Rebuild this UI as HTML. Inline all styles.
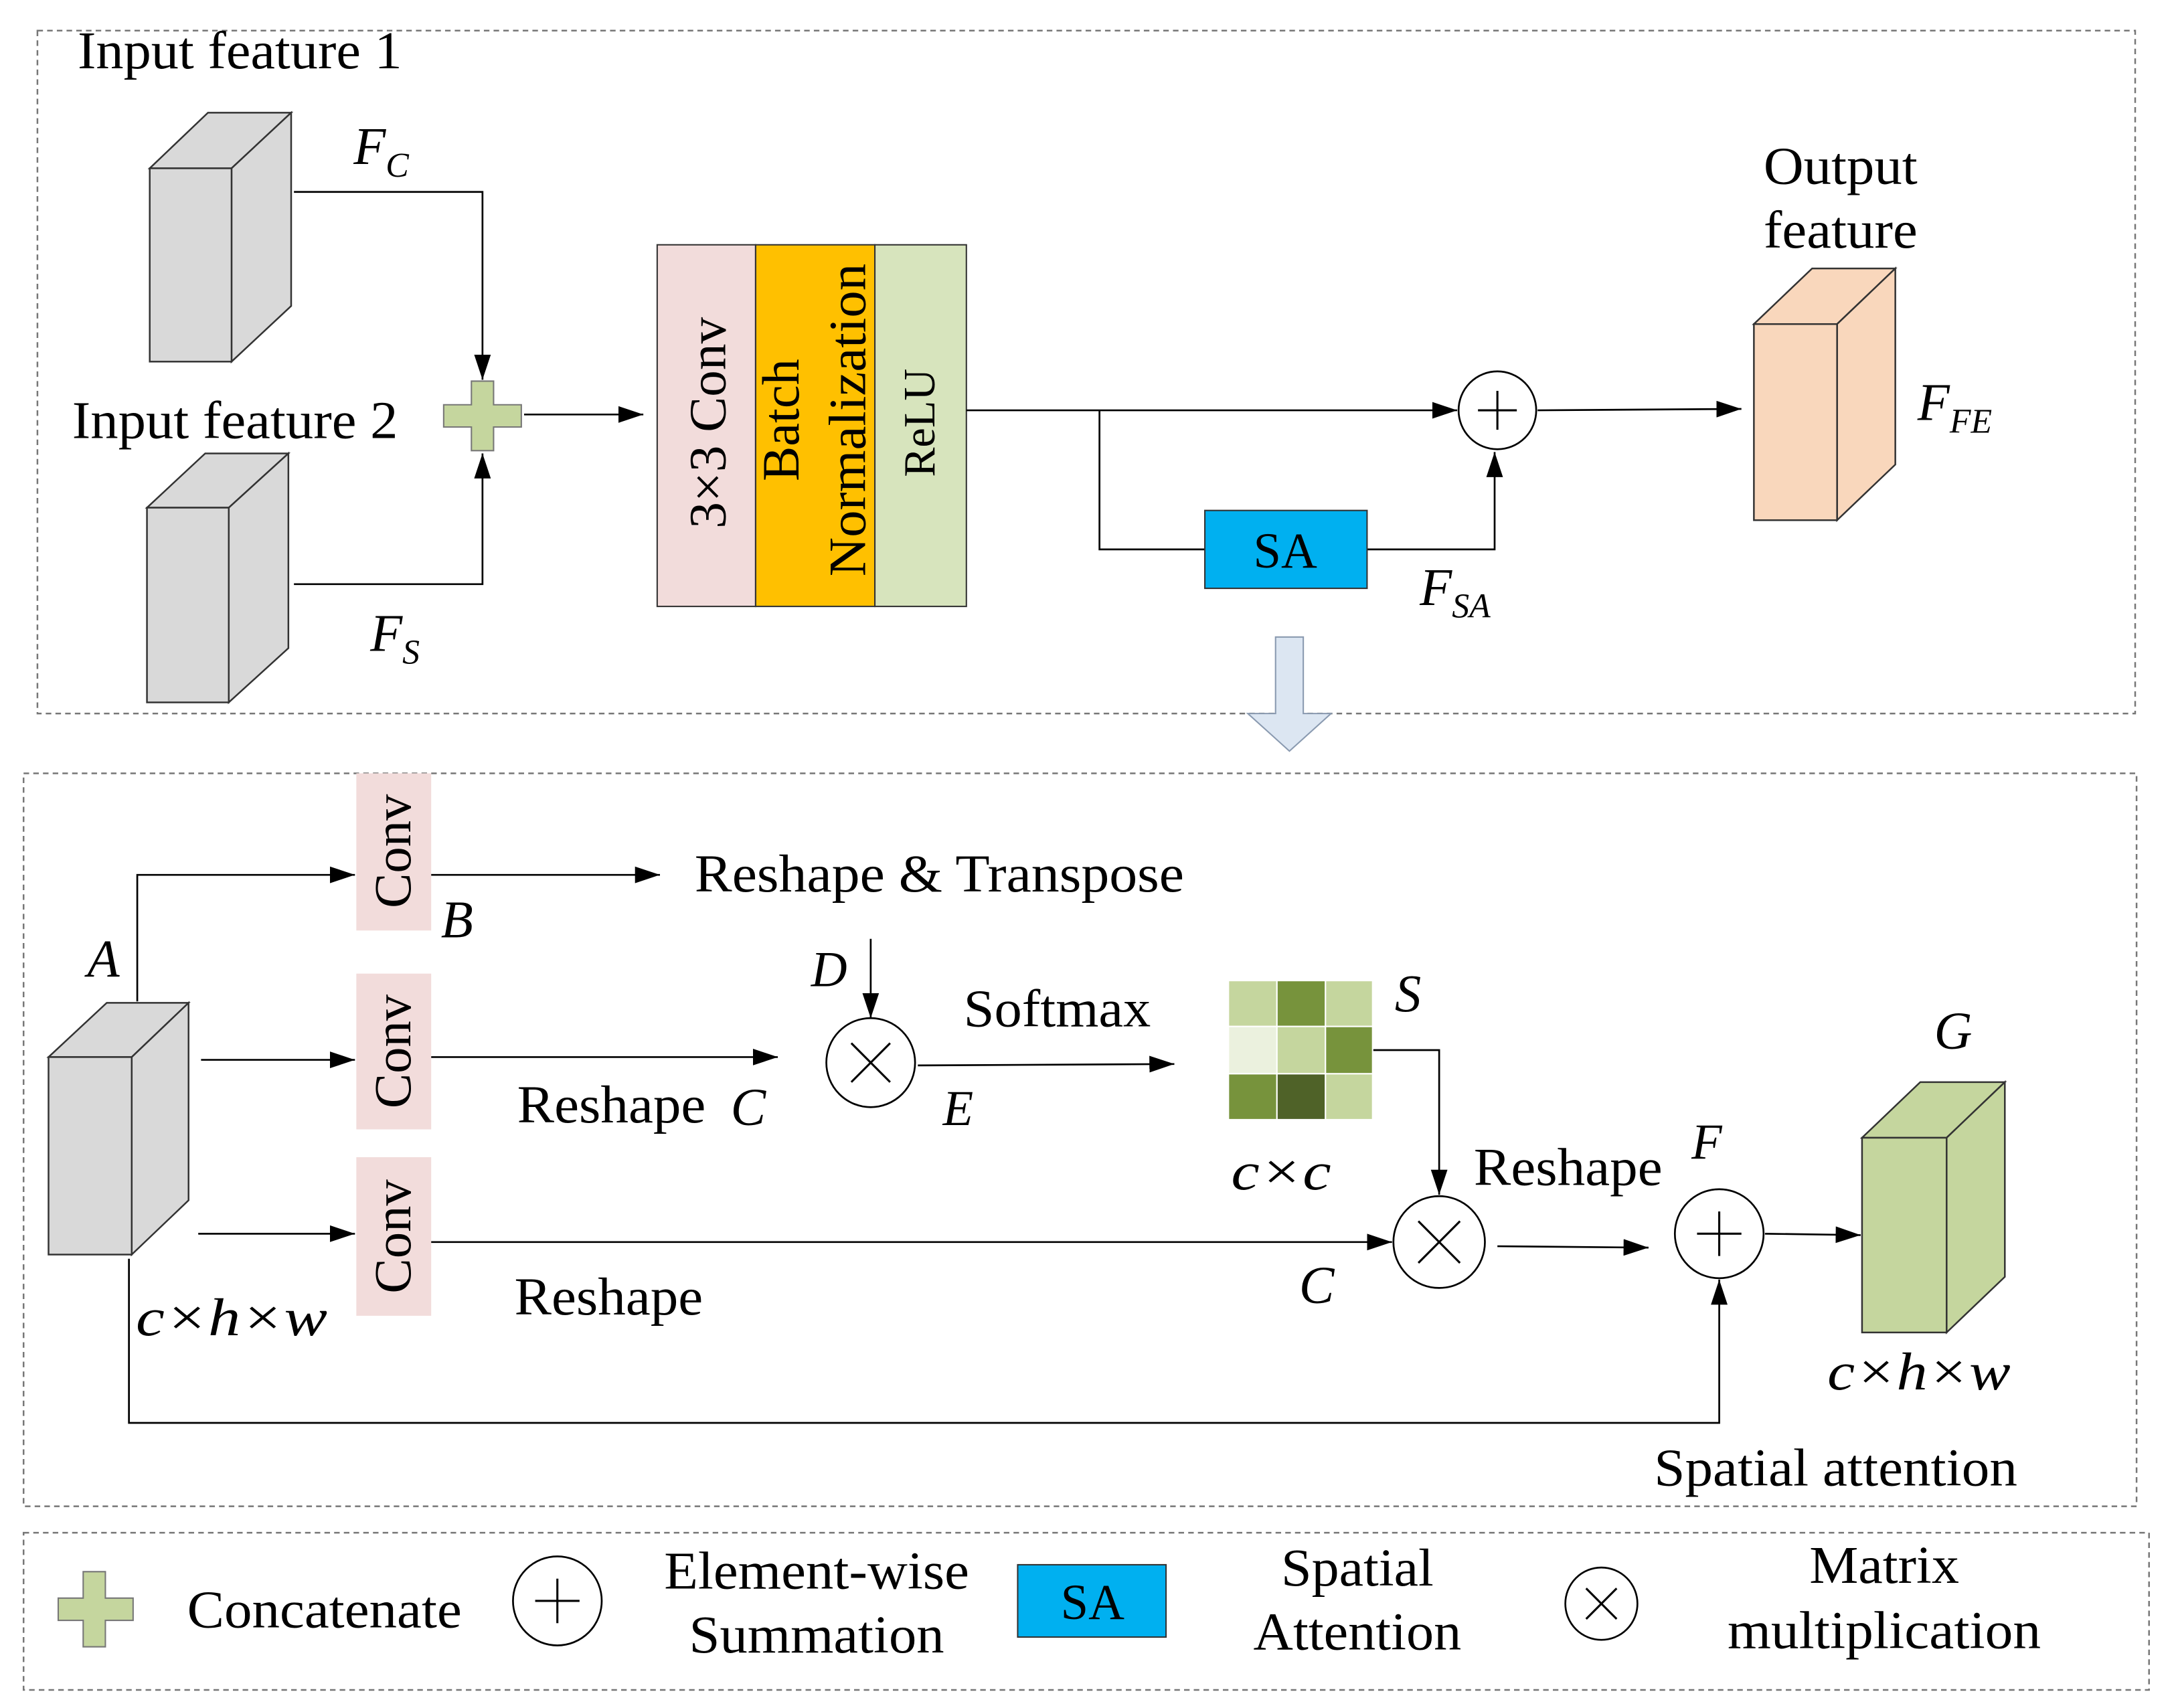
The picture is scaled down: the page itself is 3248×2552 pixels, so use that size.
<!DOCTYPE html>
<html><head><meta charset="utf-8"><style>
html,body{margin:0;padding:0;background:#fff;}
svg{display:block;}
text{font-family:"Liberation Serif",serif;fill:#000;}
.i{font-style:italic;}
</style></head><body>
<svg width="3248" height="2552" viewBox="0 0 1568 1228" preserveAspectRatio="none" xmlns="http://www.w3.org/2000/svg">
<defs>
<marker id="b" viewBox="0 0 18 12" markerWidth="18" markerHeight="12" refX="18" refY="6" orient="auto" markerUnits="userSpaceOnUse"><path d="M0,0 L18,6 L0,12 z"/></marker>
</defs>
<g fill="none" stroke="#777" stroke-width="1.2" stroke-dasharray="4,3">
<rect x="27" y="22" width="1513" height="491"/>
<rect x="17" y="556" width="1524" height="527"/>
<rect x="17" y="1102" width="1533" height="113"/>
</g>
<g stroke="#333" stroke-width="1.2">
<g fill="#d9d9d9"><path d="M108,121 L150,81 L210,81 L167,121 Z"/><path d="M167,121 L210,81 L210,220 L167,260 Z"/><rect x="108" y="121" width="59" height="139"/></g>
<g fill="#d9d9d9"><path d="M106,365 L148,326 L208,326 L165,365 Z"/><path d="M165,365 L208,326 L208,466 L165,505 Z"/><rect x="106" y="365" width="59" height="140"/></g>
<g fill="#f9d7bc"><path d="M1265,233 L1307,193 L1367,193 L1325,233 Z"/><path d="M1325,233 L1367,193 L1367,334 L1325,374 Z"/><rect x="1265" y="233" width="60" height="141"/></g>
<g fill="#d9d9d9"><path d="M35,760 L77,721 L136,721 L95,760 Z"/><path d="M95,760 L136,721 L136,863 L95,902 Z"/><rect x="35" y="760" width="60" height="142"/></g>
<g fill="#c5d69e"><path d="M1343,818 L1385,778 L1446,778 L1404,818 Z"/><path d="M1404,818 L1446,778 L1446,918 L1404,958 Z"/><rect x="1343" y="818" width="61" height="140"/></g>
</g>
<path d="M340,274 h16 v17 h20 v16 h-20 v17 h-16 v-17 h-20 v-16 h20 z" fill="#c5d69e" stroke="#777" stroke-width="1"/>
<path d="M60,1130 h16 v19 h20 v16 h-20 v19 h-16 v-19 h-18 v-16 h18 z" fill="#c5d69e" stroke="#777" stroke-width="1"/>
<rect x="474" y="176" width="71" height="260" fill="#f2dcdb" stroke="#333"/>
<rect x="545" y="176" width="86" height="260" fill="#ffc000" stroke="#333"/>
<rect x="631" y="176" width="66" height="260" fill="#d7e4bd" stroke="#333"/>
<text transform="translate(523,304) rotate(-90)" text-anchor="middle" font-size="38" textLength="152" lengthAdjust="spacingAndGlyphs">3×3 Conv</text>
<text transform="translate(576,302) rotate(-90)" text-anchor="middle" font-size="38" textLength="88" lengthAdjust="spacingAndGlyphs">Batch</text>
<text transform="translate(624,302) rotate(-90)" text-anchor="middle" font-size="38" textLength="225" lengthAdjust="spacingAndGlyphs">Normalization</text>
<text transform="translate(674,304) rotate(-90)" text-anchor="middle" font-size="32" textLength="78" lengthAdjust="spacingAndGlyphs">ReLU</text>
<g stroke="#000" stroke-width="1.3" fill="none" marker-end="url(#b)">
<path d="M212,138 H348 V273"/>
<path d="M212,420 H348 V326"/>
<path d="M378,298 H464"/>
<path d="M697,295 H1051"/>
<path d="M793,295 V395 H869" marker-end="none"/>
<path d="M986,395 H1078 V325"/>
<path d="M1109,295 L1256,294"/>
</g>
<circle cx="1080" cy="295" r="28" fill="#fff" stroke="#000" stroke-width="1.3"/>
<path d="M1066,295 h28 M1080,281 v28" stroke="#000" stroke-width="1.5"/>
<rect x="869" y="367" width="117" height="56" fill="#00b0f0" stroke="#333"/>
<text x="927" y="408" text-anchor="middle" font-size="36" font-family="Liberation Sans">SA</text>
<path d="M920,458 h20 v55 h20 l-30,27 l-30,-27 h20 z" fill="#dce6f2" stroke="#8a9ab0" stroke-width="1"/>
<text x="56" y="49" font-size="38" textLength="234" lengthAdjust="spacingAndGlyphs">Input feature 1</text>
<text x="52" y="315" font-size="38" textLength="235" lengthAdjust="spacingAndGlyphs">Input feature 2</text>
<text x="1272" y="132" font-size="38" textLength="111" lengthAdjust="spacingAndGlyphs">Output</text>
<text x="1272" y="178" font-size="38" textLength="111" lengthAdjust="spacingAndGlyphs">feature</text>
<text x="255" y="118" font-size="38" class="i">F<tspan font-size="25" dy="9">C</tspan></text>
<text x="267" y="468" font-size="38" class="i">F<tspan font-size="25" dy="9">S</tspan></text>
<text x="1024" y="435" font-size="38" class="i">F<tspan font-size="25" dy="9">SA</tspan></text>
<text x="1383" y="302" font-size="38" class="i">F<tspan font-size="25" dy="9">FE</tspan></text>
<g fill="#f2dcdb">
<rect x="257" y="556" width="54" height="113"/>
<rect x="257" y="700" width="54" height="112"/>
<rect x="257" y="832" width="54" height="114"/>
</g>
<text transform="translate(296,612) rotate(-90)" text-anchor="middle" font-size="38" textLength="82" lengthAdjust="spacingAndGlyphs">Conv</text>
<text transform="translate(296,756) rotate(-90)" text-anchor="middle" font-size="38" textLength="82" lengthAdjust="spacingAndGlyphs">Conv</text>
<text transform="translate(296,889) rotate(-90)" text-anchor="middle" font-size="38" textLength="82" lengthAdjust="spacingAndGlyphs">Conv</text>
<g stroke="#000" stroke-width="1.3" fill="none" marker-end="url(#b)">
<path d="M99,720 V629 H256"/>
<path d="M311,629 H476"/>
<path d="M145,762 H256"/>
<path d="M311,760 L561,760"/>
<path d="M628,675 V732"/>
<path d="M662,766 L847,765"/>
<path d="M990,755 H1038 V859"/>
<path d="M143,887 H256"/>
<path d="M311,893 H1004"/>
<path d="M1080,896 L1189,897"/>
<path d="M1273,887 L1342,888"/>
<path d="M93,905 V1023 H1240 V920"/>
</g>
<circle cx="628" cy="764" r="32" fill="#fff" stroke="#000" stroke-width="1.3"/>
<path d="M614,750 l28,28 M642,750 l-28,28" stroke="#000" stroke-width="1.5"/>
<circle cx="1038" cy="893" r="33" fill="#fff" stroke="#000" stroke-width="1.3"/>
<path d="M1023,878 l30,30 M1053,878 l-30,30" stroke="#000" stroke-width="1.5"/>
<circle cx="1240" cy="887" r="32" fill="#fff" stroke="#000" stroke-width="1.3"/>
<path d="M1224,887 h32 M1240,871 v32" stroke="#000" stroke-width="1.5"/>
<g stroke="#fff" stroke-width="1">
<rect x="886" y="705" width="35" height="33" fill="#c5d69e"/><rect x="921" y="705" width="35" height="33" fill="#77933c"/><rect x="956" y="705" width="34" height="33" fill="#c5d69e"/>
<rect x="886" y="738" width="35" height="34" fill="#ebf1de"/><rect x="921" y="738" width="35" height="34" fill="#c5d69e"/><rect x="956" y="738" width="34" height="34" fill="#77933c"/>
<rect x="886" y="772" width="35" height="33" fill="#77933c"/><rect x="921" y="772" width="35" height="33" fill="#4f6228"/><rect x="956" y="772" width="34" height="33" fill="#c5d69e"/>
</g>
<text x="501" y="641" font-size="38" textLength="353" lengthAdjust="spacingAndGlyphs">Reshape &amp; Transpose</text>
<text x="373" y="807" font-size="38" textLength="136" lengthAdjust="spacingAndGlyphs">Reshape</text>
<text x="527" y="809" font-size="38" class="i">C</text>
<text x="585" y="709" font-size="36" class="i">D</text>
<text x="695" y="738" font-size="38" textLength="135" lengthAdjust="spacingAndGlyphs">Softmax</text>
<text x="680" y="809" font-size="36" class="i">E</text>
<text x="1006" y="727" font-size="38" class="i">S</text>
<text x="888" y="855" font-size="38" class="i" textLength="72" lengthAdjust="spacingAndGlyphs">c×c</text>
<text x="1063" y="852" font-size="38" textLength="136" lengthAdjust="spacingAndGlyphs">Reshape</text>
<text x="1220" y="833" font-size="36" class="i">F</text>
<text x="371" y="945" font-size="38" textLength="136" lengthAdjust="spacingAndGlyphs">Reshape</text>
<text x="937" y="937" font-size="38" class="i">C</text>
<text x="1395" y="754" font-size="38" class="i">G</text>
<text x="1318" y="999" font-size="38" class="i" textLength="132" lengthAdjust="spacingAndGlyphs">c×h×w</text>
<text x="98" y="960" font-size="38" class="i" textLength="138" lengthAdjust="spacingAndGlyphs">c×h×w</text>
<text x="1193" y="1068" font-size="38" textLength="262" lengthAdjust="spacingAndGlyphs">Spatial attention</text>
<text x="63" y="702" font-size="38" class="i">A</text>
<text x="318" y="674" font-size="38" class="i">B</text>
<text x="135" y="1170" font-size="38" textLength="198" lengthAdjust="spacingAndGlyphs">Concatenate</text>
<circle cx="402" cy="1151" r="32" fill="#fff" stroke="#000" stroke-width="1.3"/>
<path d="M386,1151 h32 M402,1135 v32" stroke="#000" stroke-width="1.5"/>
<text x="479" y="1142" font-size="38" textLength="220" lengthAdjust="spacingAndGlyphs">Element-wise</text>
<text x="497" y="1188" font-size="38" textLength="184" lengthAdjust="spacingAndGlyphs">Summation</text>
<rect x="734" y="1125" width="107" height="52" fill="#00b0f0" stroke="#333"/>
<text x="788" y="1164" text-anchor="middle" font-size="36" font-family="Liberation Sans">SA</text>
<text x="924" y="1140" font-size="38" textLength="110" lengthAdjust="spacingAndGlyphs">Spatial</text>
<text x="904" y="1186" font-size="38" textLength="150" lengthAdjust="spacingAndGlyphs">Attention</text>
<circle cx="1155" cy="1153" r="26" fill="#fff" stroke="#000" stroke-width="1.3"/>
<path d="M1144,1142 l22,22 M1166,1142 l-22,22" stroke="#000" stroke-width="1.5"/>
<text x="1305" y="1138" font-size="38" textLength="108" lengthAdjust="spacingAndGlyphs">Matrix</text>
<text x="1246" y="1185" font-size="38" textLength="226" lengthAdjust="spacingAndGlyphs">multiplication</text>
</svg>
</body></html>
